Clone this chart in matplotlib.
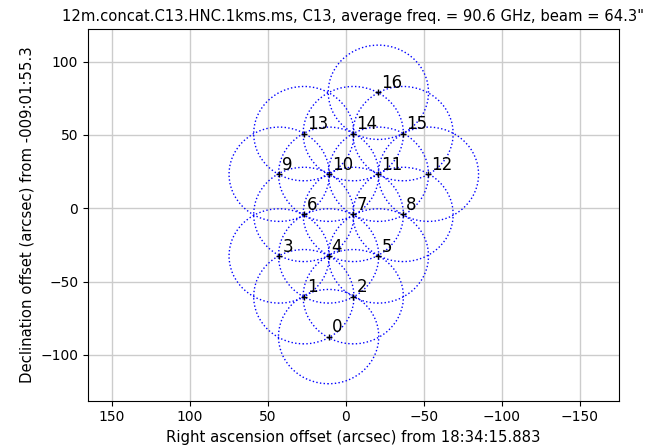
import matplotlib
matplotlib.use('Agg')
import matplotlib.pyplot as plt
from matplotlib.patches import Circle

# pointing offsets (arcsec)
ra_off = [11.1, 27.0, -4.7, 42.8, 11.1, -20.8, 27.0, -4.7, -36.6,
          42.8, 11.1, -20.8, -52.9, 27.0, -4.7, -36.6, -20.8]
dec_off = [-87.5, -60.3, -60.3, -32.5, -32.5, -32.5, -4.2, -4.2, -4.2,
           23.2, 23.2, 23.2, 23.2, 50.9, 50.9, 50.9, 79.1]
beam = 64.3

fig = plt.figure(figsize=(6.48, 4.45), dpi=100)
ax = fig.add_axes([0.1358, 0.0996, 0.8192, 0.8354])

for i, (x, y) in enumerate(zip(ra_off, dec_off)):
    ax.add_patch(Circle((x, y), beam / 2, fill=False, ec='b', ls=':', lw=1))
    ax.plot(x, y, 'k+', ms=5)
    ax.text(x - 2, y + 3, str(i), fontsize=12)

ax.set_xlim(165.4, -175)
ax.set_ylim(-131.2, 122.3)
ax.grid(True, color='#cccccc', lw=1)
ax.set_axisbelow(True)
ax.set_xlabel('Right ascension offset (arcsec) from 18:34:15.883', fontsize=10.7)
ax.set_ylabel('Declination offset (arcsec) from -009:01:55.3', fontsize=10.7)
ax.set_title('12m.concat.C13.HNC.1kms.ms, C13, average freq. = 90.6 GHz, beam = 64.3"', fontsize=10.6)

plt.savefig('out.png', dpi=100)
